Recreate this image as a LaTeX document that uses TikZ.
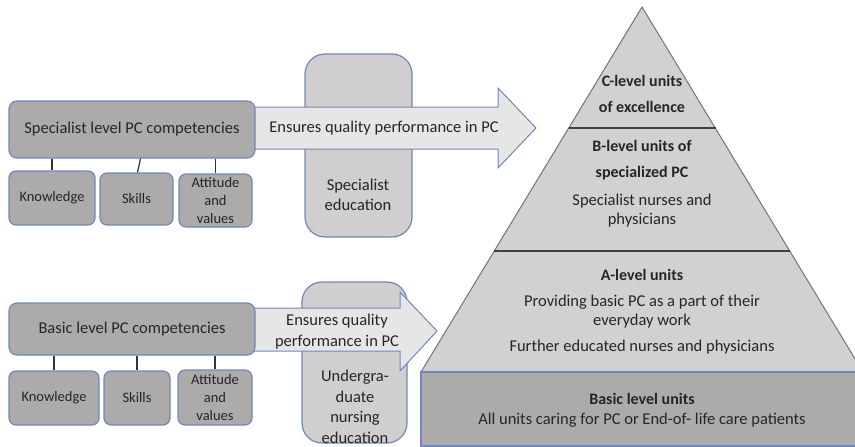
\documentclass[tikz,border=0pt]{standalone}
\usepackage{fontspec}
\setmainfont{Carlito}
\definecolor{boxgray}{HTML}{ADAAAA}
\definecolor{edugray}{HTML}{D0CECE}
\definecolor{arrowfill}{HTML}{E7E6E6}
\definecolor{pyrfill}{HTML}{D2D0D0}
\definecolor{edgeblue}{HTML}{7088B8}
\definecolor{txt}{HTML}{262626}
\tikzset{
  compbox/.style={draw=edgeblue, line width=1.2pt, fill=boxgray, rounded corners=8pt,
    inner sep=0pt, text=txt, font=\fontsize{16.5}{19}\selectfont},
  subbox/.style={draw=edgeblue, line width=1.2pt, fill=boxgray, rounded corners=7pt,
    inner sep=0pt, text=txt, align=center, font=\fontsize{14.5}{18}\selectfont},
  edubox/.style={draw=edgeblue, line width=1.2pt, fill=edugray, rounded corners=20pt,
    inner sep=0pt},
  bigarrow/.style={draw=edgeblue, line width=1pt, fill=arrowfill},
  arrowtext/.style={text=txt, align=center, font=\fontsize{16.5}{21}\selectfont},
  edutext/.style={text=txt, align=center, font=\fontsize{16.5}{20.5}\selectfont},
  link/.style={draw=black!80, line width=1.2pt},
  pyrtext/.style={text=txt, align=center, font=\fontsize{16.5}{19}\selectfont},
  pyrbold/.style={text=txt, align=center, font=\bfseries\fontsize{16}{26}\selectfont},
}
\begin{document}
\begin{tikzpicture}[x=1pt,y=-1pt]
\useasboundingbox (0,0) rectangle (855,447);
\clip (0,0) rectangle (855,447);

% pyramid of care levels
\coordinate (apex) at (642,7);
\coordinate (pl) at (421,372);
\coordinate (pr) at (863,372);
\draw[fill=pyrfill, draw=black!55, line width=1pt] (apex) -- (pl) -- (pr) -- cycle;
\draw[draw=black!75, line width=1.5pt] (568.5,128) -- (715.5,128);
\draw[draw=black!75, line width=1.5pt] (494,251) -- (790,251);
\node[draw=edgeblue, line width=1.2pt, fill=boxgray, minimum width=442pt, minimum height=74pt,
  inner sep=0pt] (basic) at (642,409) {};

\node[pyrbold] (clevel) at (642,94) {C-level units\\of excellence};
\node[pyrbold] (blevel) at (642,160) {B-level units of\\specialized PC};
\node[pyrtext] (bstaff) at (642,211) {Specialist nurses and\\physicians};
\node[pyrbold] (alevel) at (642,275) {A-level units};
\node[pyrtext] (atask) at (642,312) {Providing basic PC as a part of their\\everyday work};
\node[pyrtext] (astaff) at (642,347) {Further educated nurses and physicians};
\node[pyrbold] (blabel) at (642,399) {Basic level units};
\node[pyrtext] (bunits) at (642,420) {All units caring for PC or End-of- life care patients};

% education boxes
\node[edubox, minimum width=107pt, minimum height=183pt] (specedu) at (358.5,145.5) {};
\node[edubox, minimum width=105pt, minimum height=161pt] (ugedu) at (354.5,362.5) {};
\node[edutext] at (358,195) {Specialist\\education};
\node[edutext] at (355,407) {Undergra-\\duate\\nursing\\education};

% arrows: competencies ensure quality performance
\draw[bigarrow] (250,107) -- (498,107) -- (498,88) -- (536,128) -- (498,168) -- (498,149) -- (250,149) -- cycle;
\node[arrowtext] (arrowA) at (384,128) {Ensures quality performance in PC};
\draw[bigarrow] (250,308) -- (400,308) -- (400,292) -- (437,331) -- (400,371) -- (400,351) -- (250,351) -- cycle;
\node[arrowtext] (arrowB) at (337,331.5) {Ensures quality\\performance in PC};

% competency boxes
\node[compbox, minimum width=246pt, minimum height=57pt] (spec) at (132,129.5) {Specialist level PC competencies};
\node[compbox, minimum width=246pt, minimum height=52pt] (basiccomp) at (132,329) {Basic level PC competencies};

% specialist sub-competencies
\node[subbox, minimum width=86pt, minimum height=54pt] (sk) at (52,198) {Knowledge};
\node[subbox, minimum width=73pt, minimum height=52pt] (ss) at (136.5,199) {Skills};
\node[subbox, minimum width=73pt, minimum height=53pt] (sa) at (215.5,200.5) {Attitude\\and\\values};
\draw[link] (spec.south -| sk.north) -- (sk.north);
\draw[link] ([xshift=4pt]spec.south -| ss.north) -- ([xshift=1pt]ss.north);
\draw[link] (spec.south -| sa.north) -- (sa.north);

% basic sub-competencies
\node[subbox, minimum width=90pt, minimum height=54pt] (bk) at (54,398) {Knowledge};
\node[subbox, minimum width=66pt, minimum height=54pt] (bs) at (137,398) {Skills};
\node[subbox, minimum width=74pt, minimum height=55pt] (ba) at (215,397.5) {Attitude\\and\\values};
\draw[link] (basiccomp.south -| bk.north) -- (bk.north);
\draw[link] (basiccomp.south -| bs.north) -- (bs.north);
\draw[link] (basiccomp.south -| ba.north) -- (ba.north);
\end{tikzpicture}
\end{document}
